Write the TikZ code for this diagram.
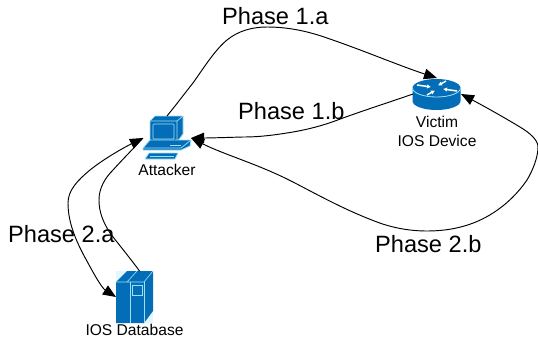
\documentclass[tikz,border=0pt]{standalone}
\usepackage{fontspec}
\setmainfont{Liberation Sans}
\usetikzlibrary{arrows.meta}
\definecolor{ciscob}{HTML}{036EB7}
\definecolor{ciscol}{HTML}{9FE0F5}
\tikzset{
  tiphead/.tip={Triangle[length=13pt,width=10.5pt]},
  link/.style={black,line width=0.95pt,tiphead-tiphead},
  linkone/.style={black,line width=0.95pt,-tiphead},
  linkplain/.style={black,line width=0.95pt},
  phase/.style={inner sep=0pt,font=\fontsize{23.6}{26}\selectfont},
  iconlabel/.style={inner sep=0pt,align=center,font=\fontsize{15.6}{19}\selectfont},
  icon/.style={inner sep=0pt,outer sep=0pt,minimum width=#1},
  ic/.style={fill=ciscob,draw=ciscol,line width=0.7pt,line join=round},
  icl/.style={draw=ciscol,line width=0.7pt},
  rarrow/.style={white,line width=1.5pt,-{Latex[length=4pt,width=4.5pt]}}
}
\begin{document}
\begin{tikzpicture}[x=1pt,y=-1pt]
\useasboundingbox (0,0) rectangle (538,343);
\fill[white] (0,0) rectangle (538,343);
% icon placeholders
\node[icon=48pt,minimum height=44pt] (attacker) at (167,138) {};
\node[icon=48pt,minimum height=32pt] (router) at (437,94) {};
\node[icon=37pt,minimum height=52pt] (db) at (134.5,297) {};
% attacker
\draw[ic] (150,121) -- (155,116) -- (183,116) -- (183,134) -- (177,142) -- (150,142) -- cycle;
\draw[icl] (150,121) -- (177,121) -- (183,116) (177,121) -- (177,142);
\draw[icl,rounded corners=1pt] (153,124) rectangle (174,139);
\draw[ic] (143,148) -- (150,140) -- (191,140) -- (190,146) -- (181,150) -- (143,150) -- cycle;
\draw[icl] (143,148) -- (181,148) -- (191,140);
\draw[icl] (170,145) -- (181,145);
\draw[ic] (145,159) -- (149,153) -- (178,153) -- (175,159) -- cycle;
\draw[icl] (150,156) -- (174,156);
% router
\fill[ciscob] (412.5,88) -- (412.5,101) arc[start angle=180,end angle=0,x radius=24,y radius=9] -- (460.5,88) -- cycle;
\fill[ciscob] (436.5,88) ellipse[x radius=24,y radius=9];
\draw[ciscol,line width=0.8pt] (412.5,88) arc[start angle=180,end angle=0,x radius=24,y radius=9];
\draw[rarrow] (417,85) -- (431,87);
\draw[rarrow] (457,91) -- (443,89);
\draw[rarrow] (446,81) -- (438,85.5);
\draw[rarrow] (427,95) -- (435,90.5);
% database
\fill[ciscol!30] (116,271) rectangle (153,323);
\fill[ciscob] (116,282) -- (127,271) -- (153,271) -- (153,311) -- (144,323) -- (116,323) -- cycle;
\draw[ciscol,line width=0.6pt] (116,282) -- (144,282) -- (153,271) (127,282) -- (137,271);
\draw[ciscol,line width=0.6pt] (130,282) -- (130,323) (144,282) -- (144,323);
\draw[ciscol,line width=0.6pt] (132,285) rectangle (142,295);
% connectors
\draw[linkone] (attacker.north) .. controls (176,105) and (185,93) .. (193,83) .. controls (205,66) and (215,50) .. (227,40) .. controls (238,31) and (252,27) .. (267,27) .. controls (290,27) and (310,32) .. (327,38) .. controls (365,51) and (400,66) .. (router.north);
\draw[linkone] (router.west) .. controls (390,102) and (365,110) .. (343,118) .. controls (325,125) and (310,129) .. (293,132) .. controls (275,135) and (260,137) .. (243,137) .. controls (225,137.5) and (210,138) .. (attacker.east);
\draw[link] (router.east) .. controls (480,104) and (500,115) .. (520,127) .. controls (530,133) and (538,140) .. (538,147) .. controls (538,157) and (533,170) .. (527,180) .. controls (518,193) and (507,204) .. (493,213) .. controls (473,226) and (450,231) .. (427,231) .. controls (410,231) and (393,228) .. (377,222) .. controls (345,210) and (320,196) .. (293,182) .. controls (258,164) and (225,155) .. (attacker.east);
\draw[link] (attacker.west) .. controls (125,147) and (105,158) .. (90,170) .. controls (78,180) and (68,190) .. (68,203) .. controls (68,225) and (78,245) .. (88,263) .. controls (95,276) and (102,288) .. (db.west);
\draw[linkplain] ([xshift=5pt]db.north) .. controls (130,258) and (120,246) .. (110,233) .. controls (103,222) and (99,212) .. (99,200) .. controls (99,188) and (105,178) .. (113,170) .. controls (122,160) and (132,150) .. (attacker.west);
% labels
\node[phase,anchor=base west] (p1a) at (222,24.5) {Phase 1.a};
\node[phase,anchor=base west] (p1b) at (238,119) {Phase 1.b};
\node[phase,anchor=base west] (p2a) at (8,242) {Phase 2.a};
\node[phase,anchor=base west] (p2b) at (375,252.5) {Phase 2.b};
\node[iconlabel,anchor=north] (lat) at (167,164) {Attacker};
\node[iconlabel,anchor=north] (lvi) at (437,116) {Victim\\IOS Device};
\node[iconlabel,anchor=north] (ldb) at (134.5,323.5) {IOS Database};
\end{tikzpicture}
\end{document}
